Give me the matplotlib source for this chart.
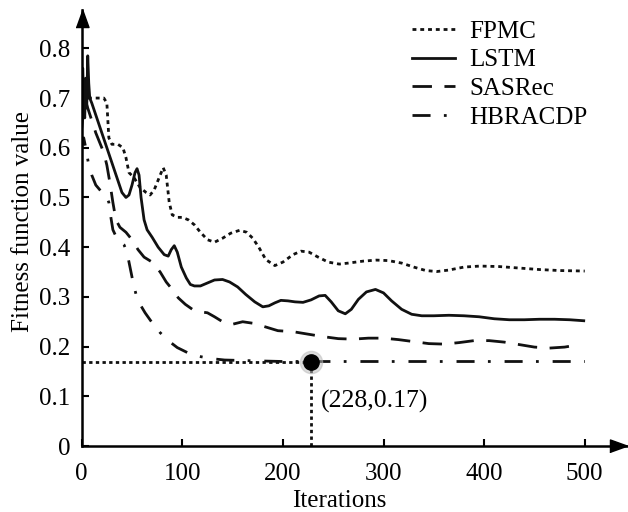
import numpy as np
import matplotlib.pyplot as plt
from matplotlib.ticker import FixedLocator

plt.rcParams['font.family'] = ['Liberation Serif', 'DejaVu Serif']
plt.rcParams['mathtext.fontset'] = 'stix'

# fitness value per iteration for each method
fpmc_x = [0, 3, 8, 15, 22, 25, 27, 30, 36, 41, 44, 47, 52, 58, 64, 68, 72, 77, 81, 84,
          87, 90, 95, 100, 106, 112, 118, 125, 132, 140, 148, 157, 164, 170, 176, 183, 192, 200, 210, 218,
          226, 235, 245, 256, 265, 280, 293, 305, 318, 330, 342, 353, 365, 380, 396, 415, 435, 455, 475, 500]
fpmc_y = [0.66, 0.70, 0.70, 0.70, 0.70, 0.69, 0.62, 0.607, 0.607, 0.60, 0.58, 0.55, 0.54, 0.52, 0.51, 0.505, 0.515, 0.54, 0.56, 0.545,
          0.49, 0.465, 0.46, 0.46, 0.455, 0.445, 0.43, 0.415, 0.41, 0.418, 0.428, 0.434, 0.43, 0.418, 0.40, 0.375, 0.363, 0.37, 0.385, 0.392,
          0.39, 0.38, 0.37, 0.366, 0.368, 0.372, 0.374, 0.373, 0.368, 0.36, 0.353, 0.351, 0.354, 0.36, 0.362, 0.361, 0.358, 0.355, 0.353, 0.352]

lstm_x = [0, 1, 2, 3, 4, 5, 6, 7, 8, 10, 15, 20, 25, 30, 35, 40, 44, 47, 50, 53,
          55, 57, 59, 62, 65, 70, 76, 82, 86, 89, 92, 95, 99, 104, 108, 112, 118, 125, 132, 140,
          147, 155, 163, 172, 180, 186, 192, 198, 205, 212, 220, 228, 236, 242, 248, 255, 262, 268, 275, 283,
          292, 300, 308, 318, 328, 338, 350, 365, 380, 395, 410, 425, 440, 455, 470, 485, 499]
lstm_y = [0.64, 0.76, 0.70, 0.66, 0.74, 0.68, 0.785, 0.73, 0.70, 0.69, 0.66, 0.63, 0.60, 0.57, 0.54, 0.51, 0.50, 0.505, 0.525, 0.55,
          0.558, 0.545, 0.50, 0.455, 0.435, 0.42, 0.40, 0.385, 0.382, 0.395, 0.403, 0.39, 0.36, 0.338, 0.325, 0.322, 0.322, 0.328, 0.334, 0.335,
          0.33, 0.32, 0.305, 0.29, 0.28, 0.282, 0.288, 0.293, 0.292, 0.29, 0.289, 0.294, 0.302, 0.303, 0.29, 0.272, 0.266, 0.275, 0.295, 0.31,
          0.315, 0.308, 0.292, 0.275, 0.265, 0.262, 0.262, 0.263, 0.262, 0.26, 0.256, 0.254, 0.254, 0.255, 0.255, 0.254, 0.252]

sasrec_x = [0, 3, 6, 10, 14, 18, 22, 25, 28, 31, 34, 38, 44, 50, 56, 62, 70, 78, 84, 90, 96, 103,
            110, 118, 125, 132, 140, 150, 160, 170, 182, 195, 210, 225, 240, 255, 270, 285, 300, 315, 330, 345,
            360, 375, 390, 405, 420, 435, 450, 465, 480, 492]
sasrec_y = [0.64, 0.70, 0.68, 0.655, 0.63, 0.61, 0.59, 0.565, 0.53, 0.49, 0.455, 0.44, 0.43, 0.415, 0.395, 0.38, 0.37, 0.35, 0.33, 0.315, 0.298, 0.285,
            0.275, 0.27, 0.268, 0.26, 0.25, 0.245, 0.25, 0.247, 0.24, 0.232, 0.23, 0.225, 0.22, 0.216, 0.215, 0.217, 0.217, 0.214, 0.21, 0.206,
            0.205, 0.208, 0.212, 0.212, 0.209, 0.204, 0.199, 0.197, 0.199, 0.203]

hbr_x = [0, 2, 4, 7, 10, 14, 19, 24, 27, 29, 31, 34, 38, 42, 45, 48, 51, 54, 58, 63,
         70, 78, 86, 95, 105, 115, 128, 142, 160, 180, 200, 228, 260, 300, 350, 400, 450, 500]
hbr_y = [0.60, 0.62, 0.60, 0.565, 0.545, 0.525, 0.513, 0.505, 0.49, 0.46, 0.435, 0.422, 0.413, 0.405, 0.39, 0.36, 0.33, 0.305, 0.285, 0.268,
         0.248, 0.228, 0.212, 0.198, 0.188, 0.181, 0.176, 0.173, 0.172, 0.171, 0.17, 0.17, 0.17, 0.17, 0.17, 0.17, 0.17, 0.17]

# converged point of HBRACDP
best_iter = 228
best_val = 0.17

x_ticks = [0, 100, 200, 300, 400, 500]
y_ticks = [0, 0.1, 0.2, 0.3, 0.4, 0.5, 0.6, 0.7, 0.8]
y_tick_labels = ['0', '0.1', '0.2', '0.3', '0.4', '0.5', '0.6', '0.7', '0.8']

fig = plt.figure(figsize=(6.28, 5.12), dpi=100)
ax = fig.add_axes([0.1301, 0.1289, 0.8683, 0.8514])

lw = 2.0
col = '#111111'
ax.plot(fpmc_x, fpmc_y, color=col, lw=lw, linestyle=(0, (1.4, 1.4)), label='FPMC')
ax.plot(lstm_x, lstm_y, color=col, lw=lw, linestyle='-', label='LSTM')
ax.plot(sasrec_x, sasrec_y, color=col, lw=lw, linestyle=(0, (7, 4.5)), label='SASRec')
ax.plot(hbr_x, hbr_y, color=col, lw=lw, linestyle=(0, (6.5, 4.8, 1, 5)), label='HBRACDP')

# guide lines to the converged point
ax.plot([0, best_iter], [best_val, best_val], color=col, lw=2.0, linestyle=(0, (1.2, 1.2)))
ax.plot([best_iter, best_iter], [0, best_val], color=col, lw=2.0, linestyle=(0, (1.2, 1.2)))
ax.plot(best_iter, best_val, 'o', color='#bbbbbb', ms=16, alpha=0.5, zorder=5)
ax.plot(best_iter, best_val, 'o', color='black', ms=11, zorder=6)
ax.text(best_iter + 10, best_val - 0.08, '(%d,%.2f)' % (best_iter, best_val),
        fontsize=18.5, ha='left', va='center')

ax.set_xlim(0, 542)
ax.set_ylim(0, 0.877)
ax.xaxis.set_major_locator(FixedLocator(x_ticks))
ax.yaxis.set_major_locator(FixedLocator(y_ticks))
ax.set_yticklabels(y_tick_labels)
ax.tick_params(direction='in', length=5, width=1.5, labelsize=18, colors='black')
ax.tick_params(axis='y', pad=8)
ax.tick_params(axis='x', pad=12)

for s in ['top', 'right']:
    ax.spines[s].set_visible(False)
for s in ['left', 'bottom']:
    ax.spines[s].set_linewidth(1.8)
    ax.spines[s].set_color('black')

# arrow heads on the axes
ax.plot(0.985, 0, marker=[(-0.5, -0.36), (-0.5, 0.36), (0.5, 0)], ms=13, color='black',
        transform=ax.transAxes, clip_on=False)
ax.plot(0, 0.981, marker=[(-0.36, -0.5), (0.36, -0.5), (0, 0.5)], ms=13, color='black',
        transform=ax.transAxes, clip_on=False)

ax.set_xlabel('Iterations', fontsize=18)
ax.xaxis.set_label_coords(0.473, -0.1)
ax.set_ylabel('Fitness function value', fontsize=18)
ax.yaxis.set_label_coords(-0.087, 0.515)

ax.legend(loc='upper left', bbox_to_anchor=(411.7 / 628, 1 - 20 / 512), bbox_transform=fig.transFigure,
          frameon=False, fontsize=18, handlelength=1.75, handletextpad=0.55, labelspacing=0.25,
          borderpad=0, borderaxespad=0)

fig.savefig('out.png', dpi=100)
